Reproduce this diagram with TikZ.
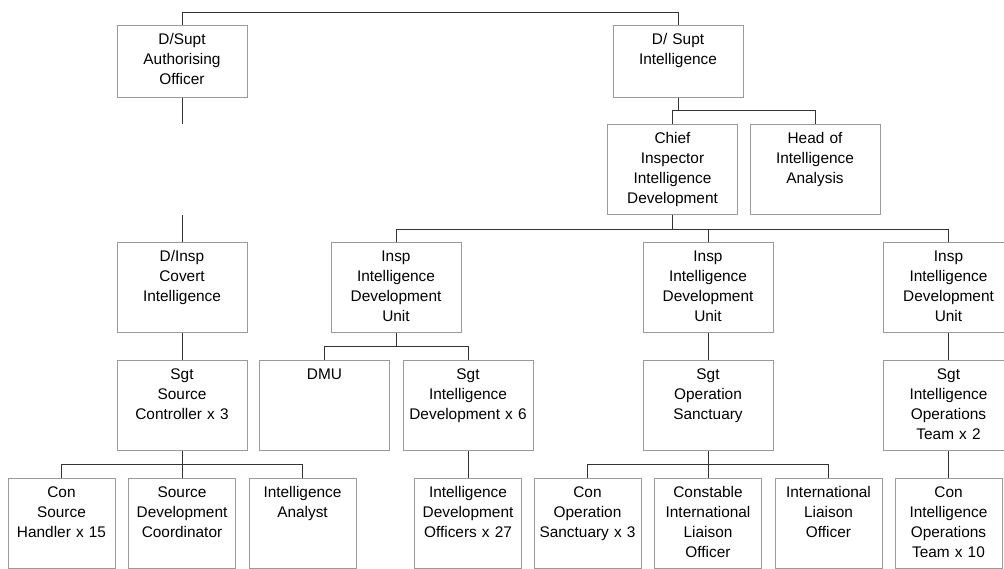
\documentclass[tikz,border=0pt]{standalone}
\usepackage{fontspec}
\setmainfont{Liberation Sans}
\definecolor{boxgray}{HTML}{9A9A9A}
\definecolor{linegray}{HTML}{333333}
\begin{document}
\begin{tikzpicture}[x=1pt, y=1pt,
  every node/.style = {shape=rectangle, draw=boxgray, line width=1pt,
    align=center, anchor=north, inner sep=4pt, text height=15pt,
    font=\fontsize{15.4}{20}\selectfont},
  short/.style = {text width=122pt, text depth=49pt},
  wide/.style = {text width=122pt, text depth=67pt},
  narrow/.style = {text width=99pt, text depth=67pt},
  link/.style = {draw=linegray, line width=1pt}]
  \useasboundingbox (0,0) rectangle (1004,-568);
  \clip (0,0) rectangle (1004,-568);
  % top row
  \node[short] (ao) at (182,-25) {D/Supt\\Authorising\\Officer};
  \node[short] (si) at (678,-25) {D/ Supt\\Intelligence};
  \node[wide] (ci) at (672.5,-124) {Chief\\Inspector\\Intelligence\\Development};
  \node[wide] (hia) at (815,-124) {Head of\\Intelligence\\Analysis};
  % inspectors
  \node[wide] (dic) at (182,-242) {D/Insp\\Covert\\Intelligence};
  \node[wide] (idu1) at (396,-242) {Insp\\Intelligence\\Development\\Unit};
  \node[wide] (idu2) at (708,-242) {Insp\\Intelligence\\Development\\Unit};
  \node[wide] (idu3) at (948.5,-242) {Insp\\Intelligence\\Development\\Unit};
  % sergeants
  \node[wide] (ssc) at (182,-360) {Sgt\\Source\\Controller x 3};
  \node[wide] (dmu) at (324.5,-360) {DMU};
  \node[wide] (sid) at (468,-360) {Sgt\\Intelligence\\Development x 6};
  \node[wide] (sos) at (708,-360) {Sgt\\Operation\\Sanctuary};
  \node[wide] (siot) at (948.5,-360) {Sgt\\Intelligence\\Operations\\Team x 2};
  % constables and staff
  \node[narrow] (csh) at (61.5,-478) {Con\\Source\\Handler x 15};
  \node[narrow] (sdc) at (182,-478) {Source\\Development\\Coordinator};
  \node[narrow] (ia) at (302.5,-478) {Intelligence\\Analyst};
  \node[narrow] (ido) at (468,-478) {Intelligence\\Development\\Officers x 27};
  \node[narrow] (cos) at (587.5,-478) {Con\\Operation\\Sanctuary x 3};
  \node[narrow] (cil) at (708,-478) {Constable\\International\\Liaison\\Officer};
  \node[narrow] (ilo) at (828.5,-478) {International\\Liaison\\Officer};
  \node[narrow] (ciot) at (948.5,-478) {Con\\Intelligence\\Operations\\Team x 10};
  % connectors
  \draw[link] (ao.north) -- ++(0,13) -| (si.north);
  \draw[link] (ao.south) -- ++(0,-26);
  \draw[link] (dic.north) -- ++(0,27);
  \draw[link] (si.south) -- ++(0,-13);
  \draw[link] (ci.north) -- ++(0,14) -| (hia.north);
  \draw[link] (ci.south) -- ++(0,-15);
  \draw[link] (idu1.north) -- ++(0,13) -| (idu3.north);
  \draw[link] (idu2.north) -- ++(0,13);
  \draw[link] (dic.south) -- (ssc.north);
  \draw[link] (idu1.south) -- ++(0,-14);
  \draw[link] (dmu.north) -- ++(0,14) -| (sid.north);
  \draw[link] (idu2.south) -- (sos.north);
  \draw[link] (idu3.south) -- (siot.north);
  \draw[link] (ssc.south) -- ++(0,-14);
  \draw[link] (csh.north) -- ++(0,14) -| (ia.north);
  \draw[link] (sdc.north) -- ++(0,14);
  \draw[link] (sid.south) -- (ido.north);
  \draw[link] (sos.south) -- ++(0,-14);
  \draw[link] (cos.north) -- ++(0,14) -| (ilo.north);
  \draw[link] (cil.north) -- ++(0,14);
  \draw[link] (siot.south) -- (ciot.north);
\end{tikzpicture}
\end{document}
